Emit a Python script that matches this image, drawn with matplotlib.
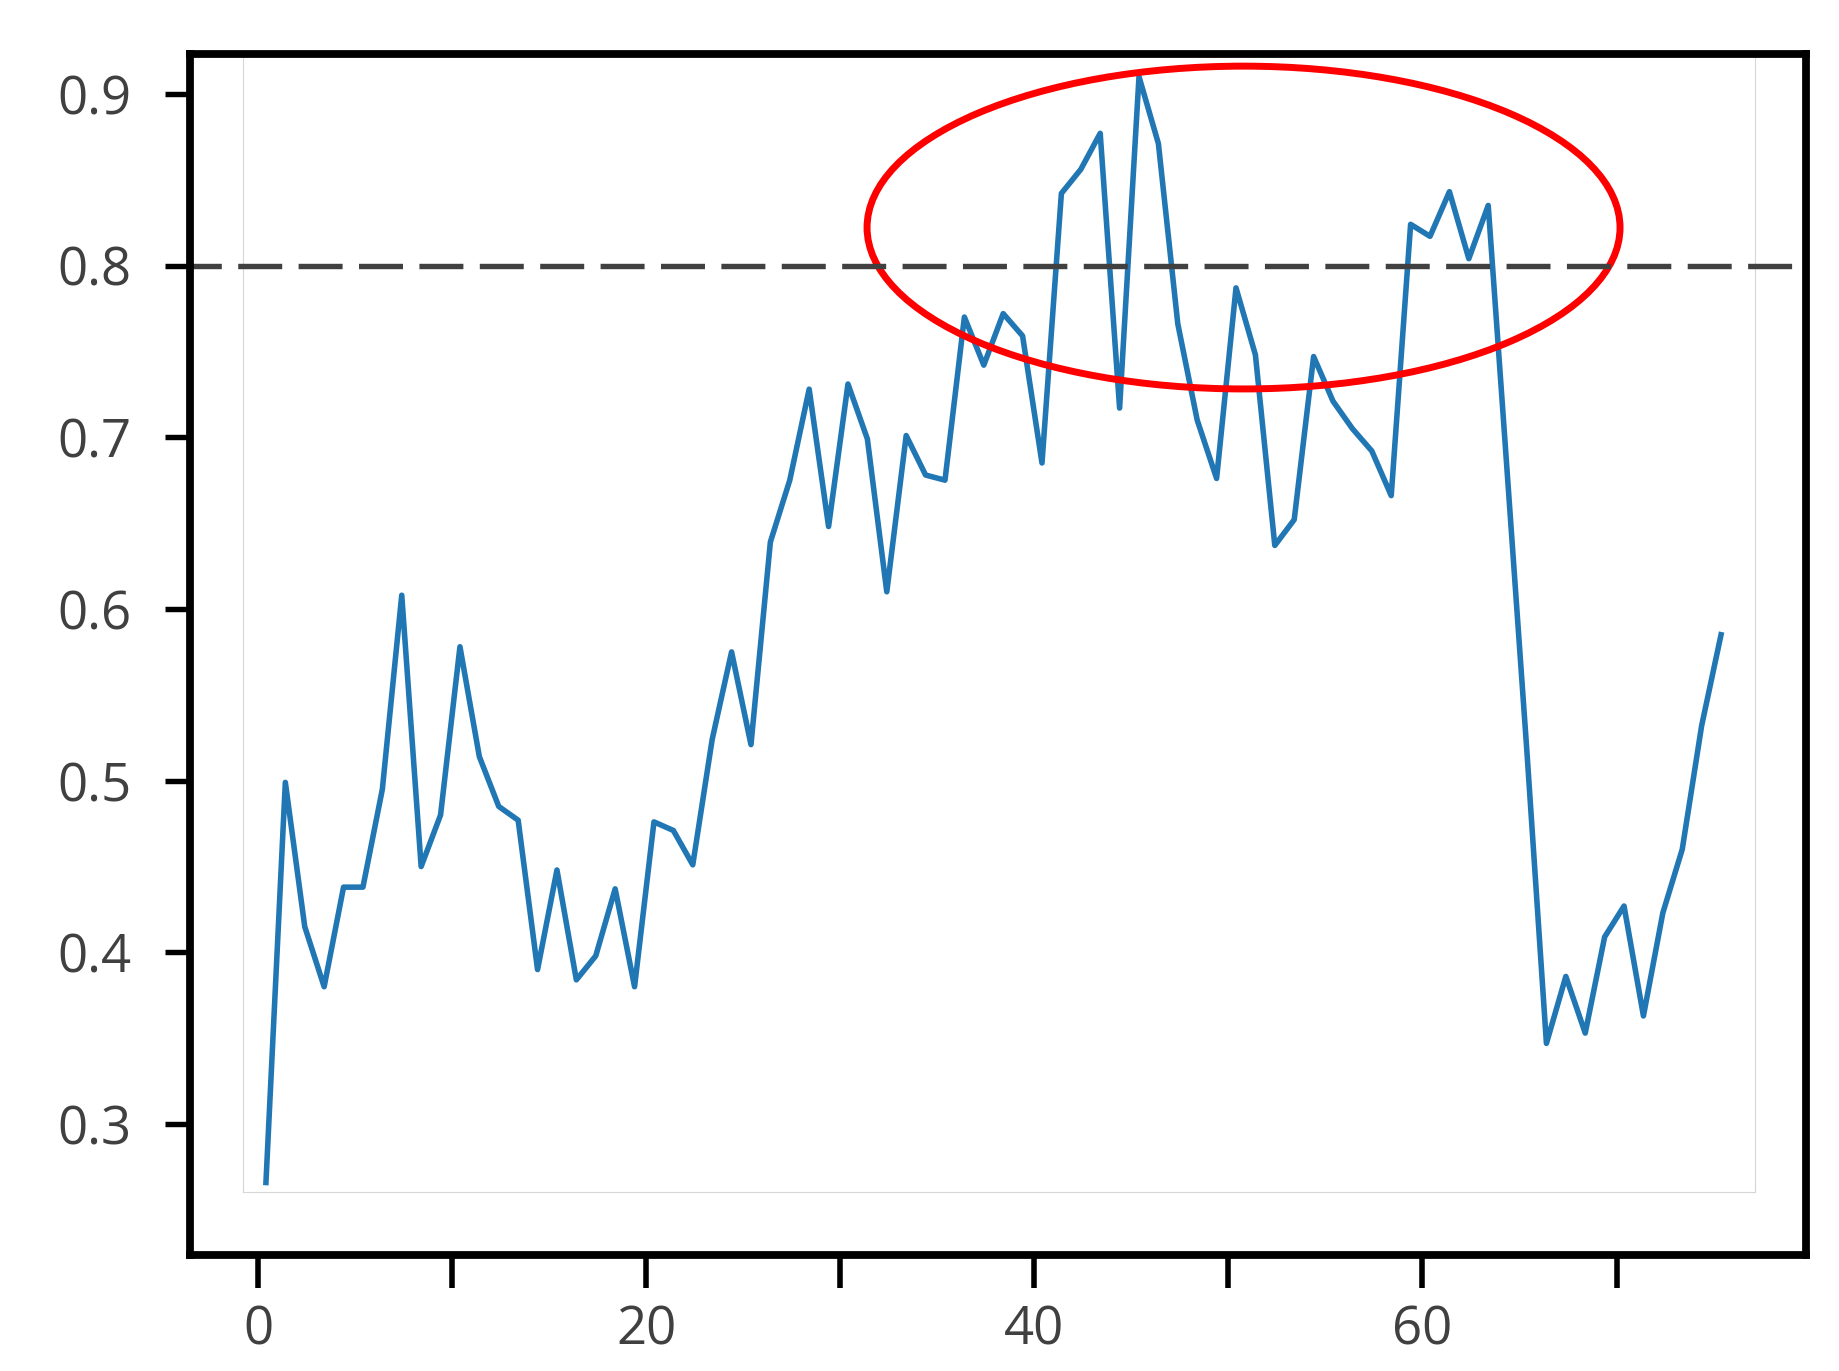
import matplotlib
matplotlib.use("Agg")
import matplotlib.pyplot as plt
from matplotlib.patches import Ellipse
import numpy as np

# values, one per step
score = [0.266, 0.499, 0.415, 0.380, 0.438, 0.438, 0.495, 0.608, 0.450, 0.480,
         0.578, 0.514, 0.485, 0.477, 0.390, 0.448, 0.384, 0.398, 0.437, 0.380,
         0.476, 0.471, 0.451, 0.524, 0.575, 0.521, 0.639, 0.675, 0.728, 0.648,
         0.731, 0.699, 0.610, 0.701, 0.678, 0.675, 0.770, 0.742, 0.772, 0.759,
         0.685, 0.842, 0.856, 0.877, 0.717, 0.910, 0.871, 0.766, 0.710, 0.676,
         0.787, 0.748, 0.637, 0.652, 0.747, 0.721, 0.705, 0.692, 0.666, 0.824,
         0.817, 0.843, 0.804, 0.835, 0.676, 0.516, 0.347, 0.386, 0.353, 0.409,
         0.427, 0.363, 0.423, 0.460, 0.532, 0.585]
steps = np.arange(len(score))

threshold = 0.8
y_ticks = [0.3, 0.4, 0.5, 0.6, 0.7, 0.8, 0.9]
x_ticks = [0, 10, 20, 30, 40, 50, 60, 70]
x_labels = ["0", "", "20", "", "40", "", "60", ""]

# highlight ring (outer axis units)
ring_center = (50.78, 0.8222)
ring_width = 38.8
ring_height = 0.188

plt.rcParams['font.family'] = ['Open Sans', 'DejaVu Sans']

fig = plt.figure(figsize=(18.4, 13.71), dpi=100)
fig.patch.set_facecolor("white")

# pasted chart with its faint grey border
ax_in = fig.add_axes([0.1323, 0.1306, 0.8215, 0.8279])
ax_in.set_facecolor("none")
ax_in.plot(steps, score, color="#2077b4", lw=4.0)
ax_in.set_xlim(-1.16, 76.75)
ax_in.set_ylim(0.2605, 0.9215)
ax_in.set_xticks([])
ax_in.set_yticks([])
ax_in.spines["top"].set_visible(False)
for side in ["left", "right", "bottom"]:
    ax_in.spines[side].set_color("#d6d6d6")
    ax_in.spines[side].set_linewidth(0.8)

# outer frame with the ticks
ax = fig.add_axes([0.1033, 0.0846, 0.8783, 0.8763])
ax.set_zorder(1)
ax.set_facecolor("none")
ax.set_xlim(-3.504, 79.77)
ax.set_ylim(0.2238, 0.9235)

ax.axhline(threshold, xmin=0, xmax=0.9926, color="#404040", lw=3.9,
           ls=(2.34, (8.12, 3.03)))
ax.add_patch(Ellipse(ring_center, ring_width, ring_height, fill=False,
                     edgecolor="#ff0000", lw=5))

ax.set_yticks(y_ticks)
ax.set_yticklabels([f"{v:.1f}" for v in y_ticks])
ax.set_xticks(x_ticks)
ax.set_xticklabels(x_labels)

for s in ax.spines.values():
    s.set_linewidth(5.6)
    s.set_color("black")

ax.tick_params(axis="y", length=18, width=3.9, pad=24, labelsize=38,
               labelcolor="#404040", color="black")
ax.tick_params(axis="x", length=24, width=4, pad=11, labelsize=38,
               labelcolor="#404040", color="black")

fig.savefig("out.png", dpi=100)
